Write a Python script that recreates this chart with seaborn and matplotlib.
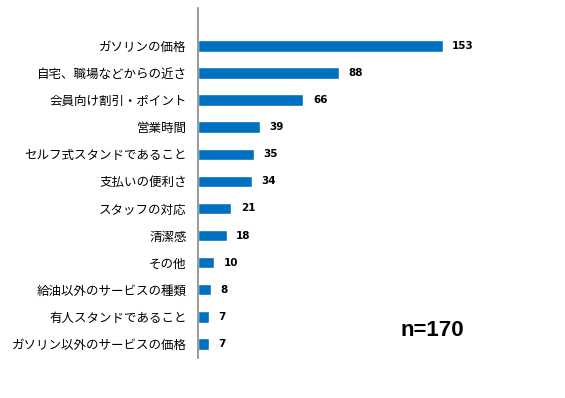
import matplotlib
matplotlib.use("Agg")
import matplotlib.pyplot as plt
import pandas as pd
import seaborn as sns

categories = [
    "ガソリンの価格",
    "自宅、職場などからの近さ",
    "会員向け割引・ポイント",
    "営業時間",
    "セルフ式スタンドであること",
    "支払いの便利さ",
    "スタッフの対応",
    "清潔感",
    "その他",
    "給油以外のサービスの種類",
    "有人スタンドであること",
    "ガソリン以外のサービスの価格",
]
counts = [153, 88, 66, 39, 35, 34, 21, 18, 10, 8, 7, 7]
sample_label = "n=170"

df = pd.DataFrame({"item": categories, "count": counts})

sns.set_style("white")
plt.rcParams["font.family"] = ["Noto Sans CJK JP", "DejaVu Sans"]

fig = plt.figure(figsize=(5.65, 3.98), dpi=100)
ax = fig.add_axes([0.350, 0.1005, 0.51, 0.8795])

sns.barplot(data=df, x="count", y="item", color="#0070C0", width=0.42,
            saturation=1, ax=ax)

for i, v in enumerate(counts):
    ax.text(v + 6, i, str(v), va="center", ha="left", fontsize=7.5,
            fontweight="bold", family="DejaVu Sans", color="black")

ax.set_xlim(0, 180)
ax.set_ylim(11.52, -1.40)
ax.set_xlabel("")
ax.set_ylabel("")
ax.set_xticks([])
ax.tick_params(axis="y", length=0, pad=8, labelsize=9, labelcolor="black")
for s in ["top", "right", "bottom"]:
    ax.spines[s].set_visible(False)
ax.spines["left"].set_color("#888888")
ax.spines["left"].set_linewidth(1.2)

fig.text(400 / 565, 1 - 331 / 398, sample_label, fontsize=16, fontweight="bold",
         family="Liberation Sans", va="center", ha="left", color="black")

fig.savefig("out.png", dpi=100)
